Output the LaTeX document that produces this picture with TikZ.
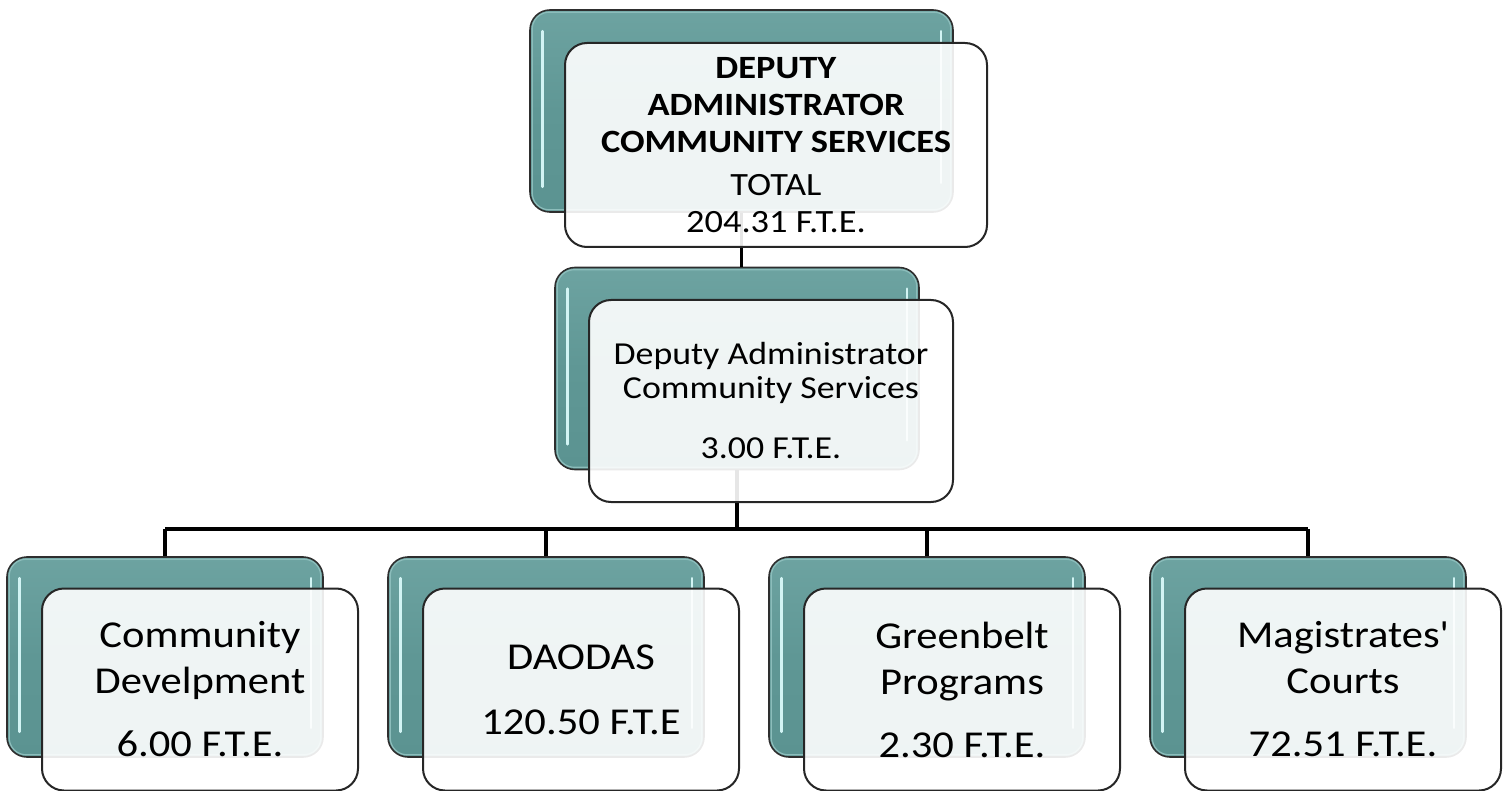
\documentclass[tikz,border=0pt]{standalone}
\usepackage{fontspec}
\setmainfont{Carlito}[Ligatures=TeXOff, FakeStretch=1.12]
\definecolor{tealmid}{HTML}{5F9795}
\definecolor{teallight}{HTML}{6DA3A1}
\definecolor{tealdark}{HTML}{5B9391}
\definecolor{hlcol}{HTML}{D2F4F4}
\definecolor{innerrim}{HTML}{8CBDBB}
\definecolor{rimcol}{HTML}{2E2E2E}
\tikzset{
  backbox/.style={draw=rimcol, line width=1.6pt, rounded corners=20pt,
    top color=teallight, bottom color=tealdark, middle color=tealmid,
    minimum width=#1, minimum height=202pt, inner sep=0pt},
  frontbox/.style={draw=black!85, line width=2pt, rounded corners=22pt,
    fill=white, fill opacity=0.9, text opacity=1,
    minimum width=#1, minimum height=202pt, inner sep=0pt, align=center},
  hl/.style={draw=hlcol, line width=2.6pt, line cap=round},
  rim/.style={draw=innerrim, line width=1.2pt, rounded corners=17pt},
  conn/.style={draw=black, line width=3.6pt},
  topfont/.style={font=\fontsize{32.5}{37}\selectfont},
  midfont/.style={font=\fontsize{32}{34}\selectfont},
  botfont/.style={font=\fontsize{38}{46}\selectfont},
}
\begin{document}
\begin{tikzpicture}[x=1pt,y=-1pt]
\useasboundingbox (0,0) rectangle (1512,791);
% back boxes
\node[backbox=423pt] (tb) at (741.5,111) {};
\node[backbox=364pt] (sb) at (737,368.5) {};
\node[backbox=316pt, minimum height=200pt] (b1) at (165,657) {};
\node[backbox=316pt, minimum height=200pt] (b2) at (546,657) {};
\node[backbox=316pt, minimum height=200pt] (b3) at (927,657) {};
\node[backbox=316pt, minimum height=200pt] (b4) at (1308,657) {};
% rims and highlights
\foreach \n in {tb,sb,b1,b2,b3,b4}{
  \draw[rim] ([xshift=3pt,yshift=-3pt]\n.north west) rectangle ([xshift=-3pt,yshift=3pt]\n.south east);
  \draw[hl] ([xshift=13pt,yshift=-22pt]\n.north west) -- ([xshift=13pt,yshift=26pt]\n.south west);
  \draw[hl] ([xshift=-13pt,yshift=-22pt]\n.north east) -- ([xshift=-13pt,yshift=30pt]\n.south east);
}
% connectors
\coordinate (hl) at (165,529);
\coordinate (hr) at (1308,529);
\coordinate (hm) at (737,529);
\draw[conn] (tb.south) -- (tb.south |- sb.north);
\draw[conn] (sb.south) -- (hm);
\draw[conn] (hl) -- (hr);
\foreach \n in {b1,b2,b3,b4}{
  \draw[conn] (\n.north |- hl) -- (\n.north);
}
% front boxes
\node[frontbox=422pt, minimum height=204pt, topfont] (tf) at (776,145)
  {\textbf{DEPUTY}\\\textbf{ADMINISTRATOR}\\\textbf{COMMUNITY SERVICES}\\[6pt]TOTAL\\204.31 F.T.E.};
\node[frontbox=364pt, midfont] (sf) at (771,401)
  {Deputy Administrator\\Community Services\\[26pt]3.00 F.T.E.};
\node[frontbox=316pt, botfont] (f1) at (200,689.5)
  {Community\\Develpment\\[17pt]6.00 F.T.E.};
\node[frontbox=316pt, botfont] (f2) at (581,689.5)
  {DAODAS\\[19pt]120.50 F.T.E};
\node[frontbox=316pt, botfont] (f3) at (962,689.5)
  {Greenbelt\\Programs\\[17pt]2.30 F.T.E.};
\node[frontbox=316pt, botfont] (f4) at (1343,689.5)
  {Magistrates'\\Courts\\[17pt]72.51 F.T.E.};
\end{tikzpicture}
\end{document}
